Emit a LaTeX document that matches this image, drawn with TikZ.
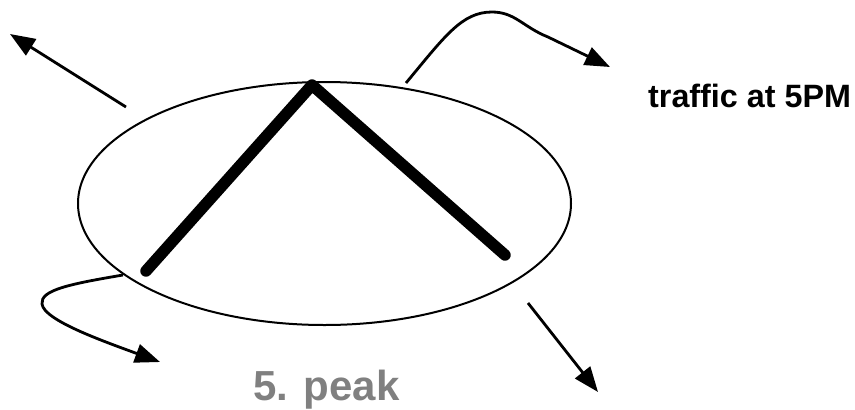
\documentclass[tikz,border=0pt]{standalone}
\usepackage{fontspec}
\setmainfont{Liberation Sans}
\usetikzlibrary{arrows.meta,shapes.geometric}
\definecolor{labelgray}{RGB}{128,128,128}
\tikzset{
  conn/.style={line width=2.8pt, -{Triangle[length=25pt,width=19pt]}},
  peakline/.style={line width=11.5pt, line cap=round, line join=round},
  oval/.style={ellipse, draw, line width=2pt, minimum width=493pt, minimum height=243pt, inner sep=0pt},
}
\begin{document}
\begin{tikzpicture}[x=1pt,y=-1pt]
\useasboundingbox (0,0) rectangle (855,410);
\node[oval] (ov) at (324.5,203.5) {};
\coordinate (pl) at (146,271);
\coordinate (pa) at (312,85);
\coordinate (pr) at (505,255);
\draw[peakline] (pl) -- (pa) -- (pr);
% arrows
\coordinate (s1) at (126,107);
\coordinate (t1) at (10,34);
\draw[conn] (s1) -- (t1);
\coordinate (s2) at (406,83);
\coordinate (t2) at (610,67);
\draw[conn] (s2) .. controls (445,36) and (462,12) .. (492,12) .. controls (515,12) and (523,27) .. (548,37) -- (t2);
\coordinate (s3) at (123,275);
\coordinate (t3) at (160,362);
\draw[conn] (s3) .. controls (70,284) and (40,290) .. (42,304) .. controls (44,320) and (100,340) .. (t3);
\coordinate (s4) at (528,303);
\coordinate (t4) at (598,392);
\draw[conn] (s4) -- (t4);
% labels
\node[anchor=base west, inner sep=0pt, font=\fontsize{32.3}{36}\selectfont\bfseries] (lab1) at (648,107) {traffic at 5PM};
\node[anchor=base west, inner sep=0pt, text=labelgray, font=\fontsize{42}{46}\selectfont\bfseries] (lab2) at (253,400) {5. peak};
\end{tikzpicture}
\end{document}
